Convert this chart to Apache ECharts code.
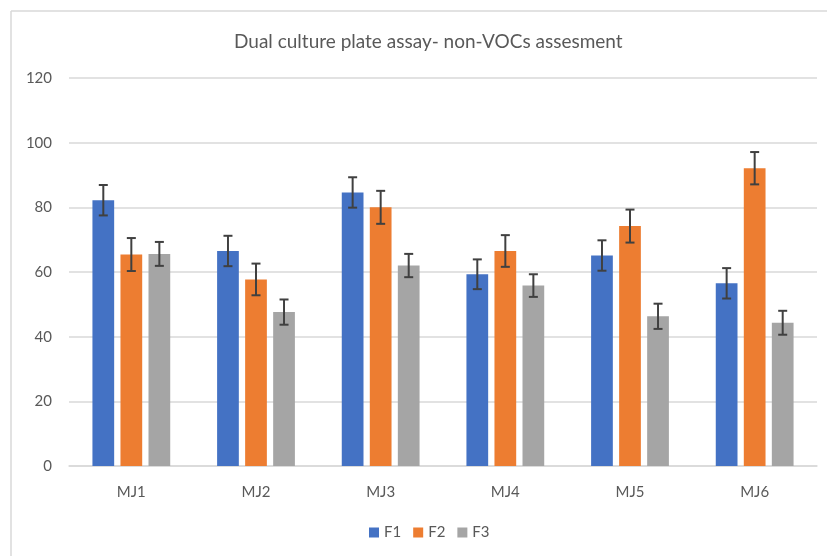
<!DOCTYPE html>
<html>
<head>
<meta charset="utf-8">
<script src="https://cdn.jsdelivr.net/npm/echarts@6/dist/echarts.min.js"></script>
<style>
  html, body { margin: 0; padding: 0; background: #fff; }
  #chart { width: 827px; height: 556px; }
</style>
</head>
<body>
<div id="chart"></div>
<script>
const categories = ['MJ1', 'MJ2', 'MJ3', 'MJ4', 'MJ5', 'MJ6'];
const seriesNames = ['F1', 'F2', 'F3'];
const f1Values = [82.2, 66.5, 84.6, 59.3, 65.1, 56.5];
const f2Values = [65.4, 57.7, 80.0, 66.5, 74.2, 92.1];
const f3Values = [65.6, 47.6, 62.0, 55.8, 46.3, 44.3];
const f1Errors = [4.7, 4.7, 4.7, 4.6, 4.7, 4.7];
const f2Errors = [5.1, 4.9, 5.1, 4.9, 5.1, 5.0];
const f3Errors = [3.7, 3.9, 3.6, 3.5, 3.9, 3.7];
const colors = ['#4472C4', '#ED7D31', '#A5A5A5'];

const values = [f1Values, f2Values, f3Values];
const errors = [f1Errors, f2Errors, f3Errors];

const catGap = 0.376;   // barCategoryGap as fraction
const barGap = 0.29;    // barGap as fraction of bar width

const chart = echarts.init(document.getElementById('chart'));

const series = [];
values.forEach((vals, i) => {
  series.push({
    name: seriesNames[i],
    type: 'bar',
    data: vals,
    itemStyle: { color: colors[i] },
    barGap: (barGap * 100) + '%',
    barCategoryGap: (catGap * 100) + '%'
  });
});

values.forEach((vals, i) => {
  series.push({
    type: 'custom',
    name: seriesNames[i] + ' err',
    data: vals.map((v, k) => [k, v - errors[i][k], v + errors[i][k]]),
    z: 10,
    silent: true,
    renderItem: function (params, api) {
      const k = api.value(0);
      const lo = api.coord([k, api.value(1)]);
      const hi = api.coord([k, api.value(2)]);
      const catW = api.size([1, 0])[0];
      const b = catW * (1 - catGap) / (3 + 2 * barGap);
      const x = lo[0] + (i - 1) * b * (1 + barGap);
      const cap = 4.5;
      const style = { stroke: '#404040', lineWidth: 2 };
      return {
        type: 'group',
        children: [
          { type: 'line', shape: { x1: x, y1: hi[1], x2: x, y2: lo[1] }, style: style },
          { type: 'line', shape: { x1: x - cap, y1: hi[1], x2: x + cap, y2: hi[1] }, style: style },
          { type: 'line', shape: { x1: x - cap, y1: lo[1], x2: x + cap, y2: lo[1] }, style: style }
        ]
      };
    }
  });
});

chart.setOption({
  backgroundColor: '#fff',
  animation: false,
  textStyle: { fontFamily: 'Lato, "Open Sans", sans-serif' },
  graphic: [
    {
      type: 'line',
      shape: { x1: 11, y1: 11, x2: 827, y2: 11 },
      style: { stroke: '#d9d9d9', lineWidth: 1.5 },
      z: -1
    },
    {
      type: 'line',
      shape: { x1: 11, y1: 11, x2: 11, y2: 556 },
      style: { stroke: '#d9d9d9', lineWidth: 1.5 },
      z: -1
    }
  ],
  title: {
    text: 'Dual culture plate assay- non-VOCs assesment',
    left: 229,
    top: 27,
    textStyle: { fontSize: 19, fontWeight: 'normal', color: '#595959', fontFamily: 'Lato, sans-serif' }
  },
  legend: {
    data: seriesNames,
    top: 520,
    left: 364,
    itemWidth: 10,
    itemHeight: 10,
    itemGap: 12,
    icon: 'rect',
    textStyle: { fontSize: 15, color: '#595959' }
  },
  grid: { left: 69, right: 10, top: 78, bottom: 90, containLabel: false },
  xAxis: {
    type: 'category',
    data: categories,
    axisTick: { show: false },
    axisLine: { lineStyle: { color: '#d9d9d9', width: 1.5 } },
    axisLabel: { fontSize: 15, color: '#595959', margin: 19 }
  },
  yAxis: {
    type: 'value',
    min: 0,
    max: 120,
    interval: 20,
    axisLine: { show: false },
    axisTick: { show: false },
    splitLine: { lineStyle: { color: '#d9d9d9', width: 1.5 } },
    axisLabel: { fontSize: 15, color: '#595959', margin: 17 }
  },
  series: series
});
</script>
</body>
</html>
